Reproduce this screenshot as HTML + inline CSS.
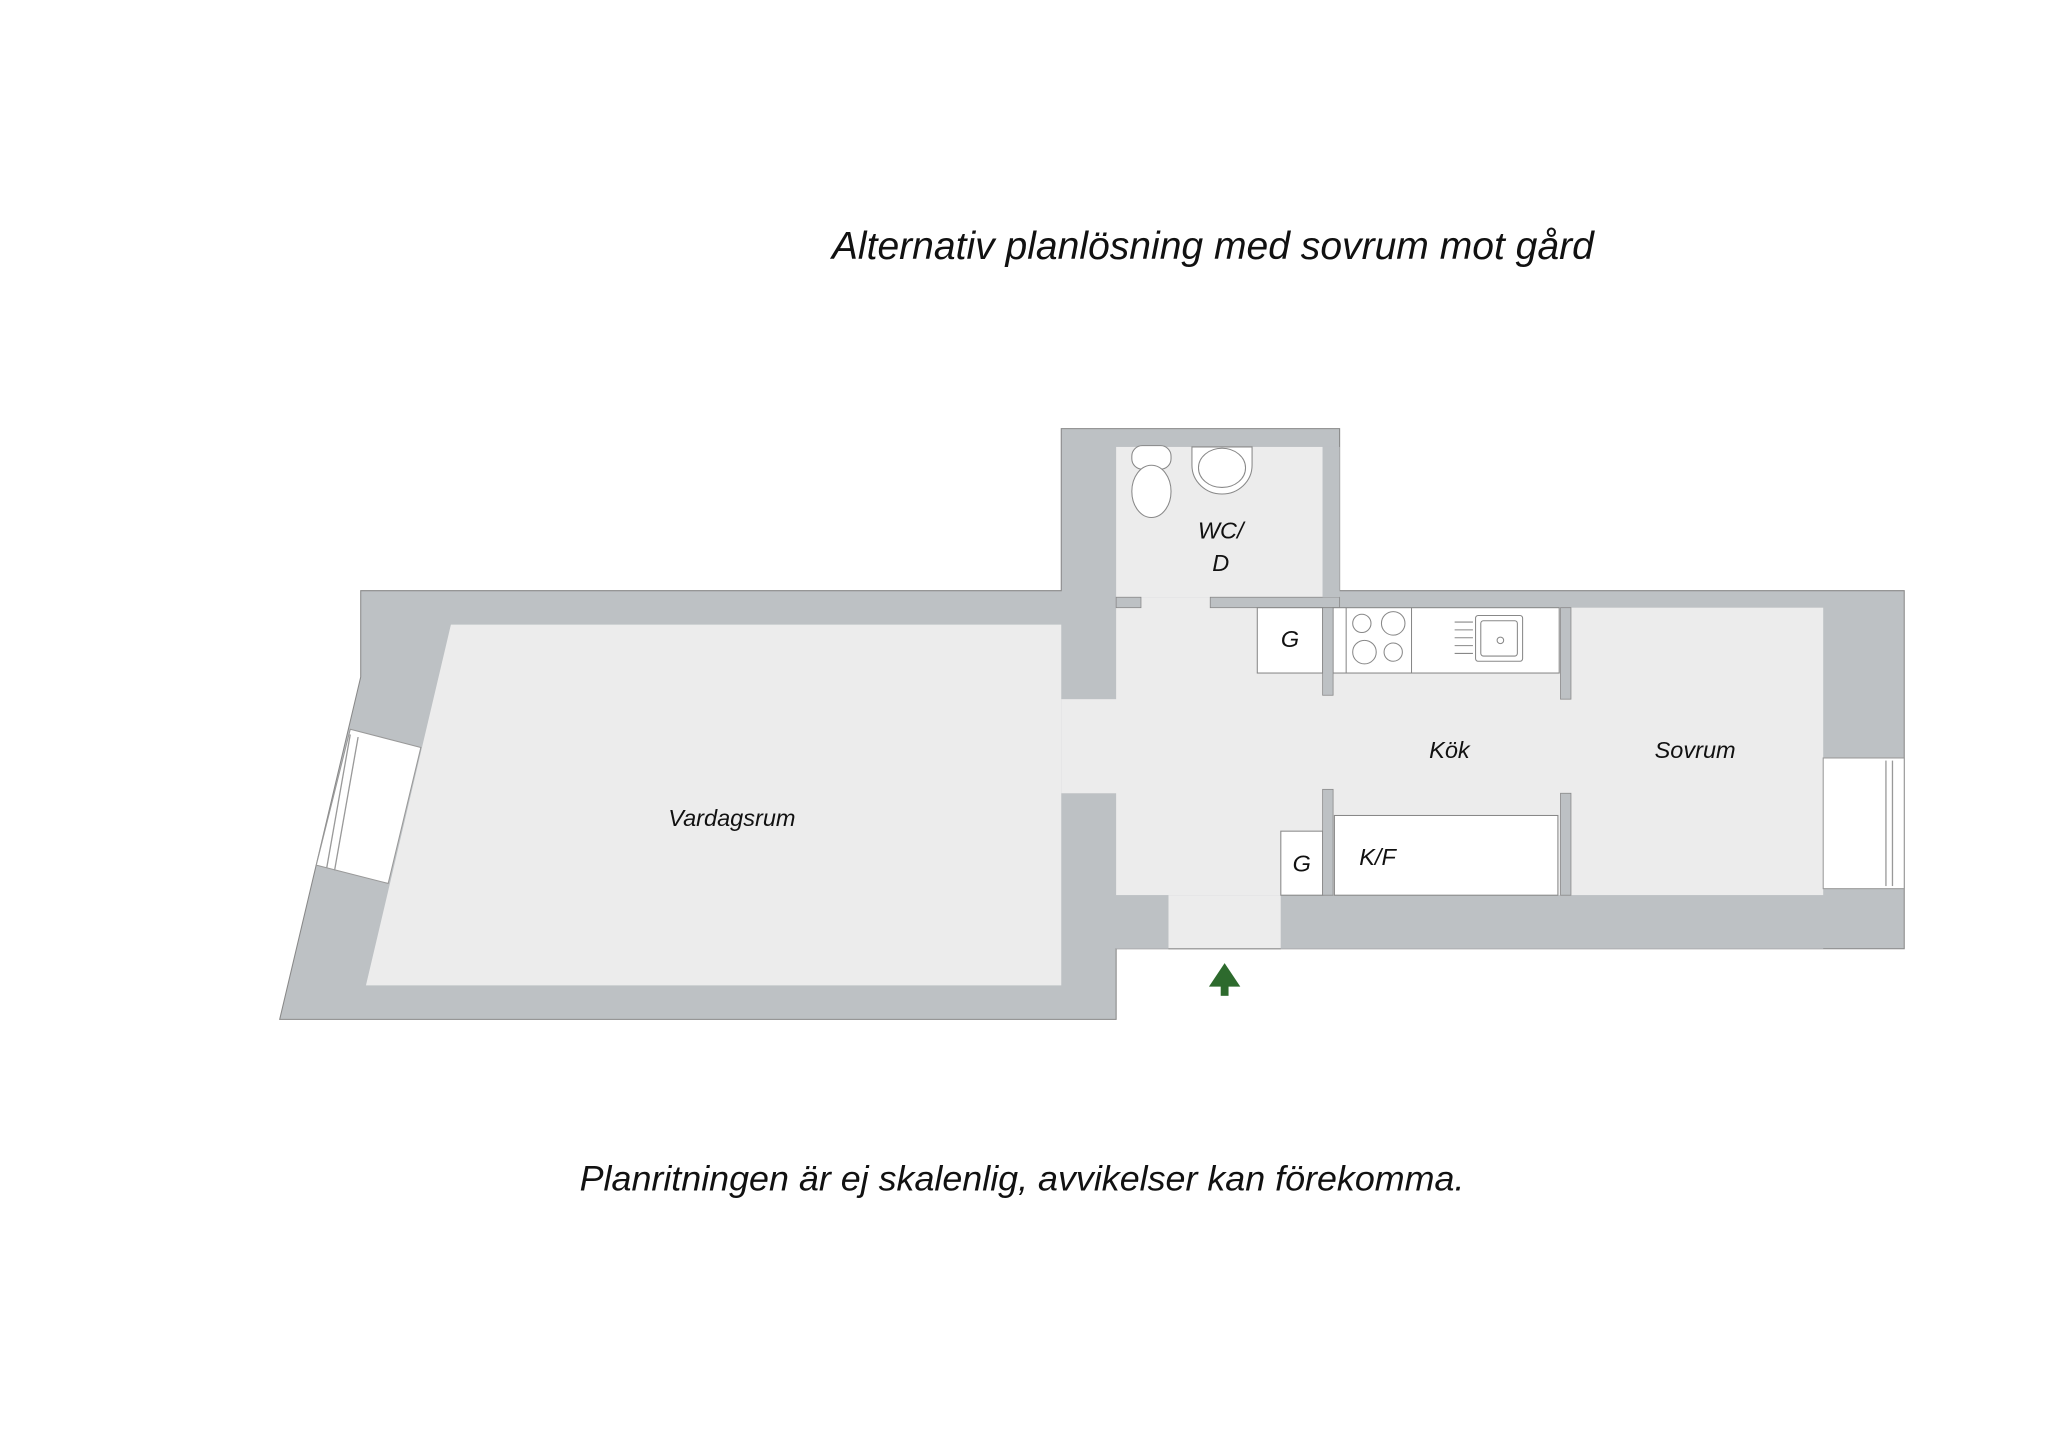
<!DOCTYPE html>
<html><head><meta charset="utf-8"><style>
html,body{margin:0;padding:0;background:#fff;}
svg{display:block;}
text{font-family:"Liberation Sans",sans-serif;font-style:italic;fill:#111;}
</style></head><body>
<svg width="2048" height="1448" viewBox="0 0 1567 1108" preserveAspectRatio="none" xmlns="http://www.w3.org/2000/svg">
<rect width="1567" height="1108" fill="#fff"/>
<text x="928" y="198" font-size="29.5" text-anchor="middle" textLength="583" lengthAdjust="spacingAndGlyphs">Alternativ planlösning med sovrum mot gård</text>
<text x="782" y="911" font-size="27" text-anchor="middle" textLength="677" lengthAdjust="spacingAndGlyphs">Planritningen är ej skalenlig, avvikelser kan förekomma.</text>
<polygon points="276,452 812,452 812,328 1025,328 1025,452 1457,452 1457,726 980,726 980,726 854,726 854,780 214,780 276,518" fill="#bdc1c4" stroke="#888" stroke-width="0.8"/>
<g fill="#ececec">
<polygon points="345,478 812,478 812,754 280,754"/>
<rect x="812" y="535" width="44" height="72"/>
<rect x="854" y="342" width="158" height="115"/>
<rect x="873" y="457" width="53" height="10"/>
<rect x="854" y="465" width="541" height="220"/>
<rect x="894" y="685" width="86" height="41"/>
</g>
<rect x="854" y="457" width="19" height="8" fill="#bdc1c4" stroke="#888" stroke-width="0.6"/>
<rect x="926" y="457" width="99" height="8" fill="#bdc1c4" stroke="#888" stroke-width="0.6"/>
<rect x="1012" y="342" width="13" height="115" fill="#bdc1c4"/>
<rect x="854" y="685" width="40" height="41" fill="#bdc1c4"/>
<rect x="980" y="685" width="415" height="41" fill="#bdc1c4"/>
<line x1="894" y1="726" x2="980" y2="726" stroke="#999" stroke-width="1"/>
<polygon points="268,558 322,572 297,676 242,662" fill="#fff" stroke="#999" stroke-width="0.8"/>
<line x1="268" y1="562" x2="250" y2="664" stroke="#999" stroke-width="1"/>
<line x1="274" y1="564" x2="256" y2="666" stroke="#999" stroke-width="1"/>
<rect x="1395" y="580" width="62" height="100" fill="#fff" stroke="#999" stroke-width="0.8"/>
<line x1="1443" y1="582" x2="1443" y2="678" stroke="#999"/>
<line x1="1448" y1="582" x2="1448" y2="678" stroke="#999"/>
<g fill="#fff" stroke="#888" stroke-width="0.8">
<rect x="962" y="465" width="50" height="50"/>
<rect x="1020" y="465" width="173" height="50"/>
<line x1="1030" y1="465" x2="1030" y2="515"/>
<line x1="1080" y1="465" x2="1080" y2="515"/>
<circle cx="1042" cy="477" r="7"/><circle cx="1066" cy="477" r="9"/>
<circle cx="1044" cy="499" r="9"/><circle cx="1066" cy="499" r="7"/>
<rect x="1129" y="471" width="36" height="35" rx="2"/>
<rect x="1133" y="475" width="28" height="27" rx="2"/>
<circle cx="1148" cy="490" r="2.5"/>
<line x1="1113" y1="476" x2="1127" y2="476"/><line x1="1113" y1="482" x2="1127" y2="482"/>
<line x1="1113" y1="488" x2="1127" y2="488"/><line x1="1113" y1="494" x2="1127" y2="494"/>
<line x1="1113" y1="500" x2="1127" y2="500"/>
<rect x="1021" y="624" width="171" height="61"/>
<rect x="980" y="636" width="32" height="49"/>
<rect x="866" y="341" width="30" height="18" rx="8"/>
<ellipse cx="881" cy="376" rx="15" ry="20"/>
<path d="M912,342 L958,342 L958,356 A23,22 0 0 1 912,356 Z"/>
<ellipse cx="935" cy="358" rx="18" ry="15"/>
</g>
<g fill="#bdc1c4" stroke="#888" stroke-width="0.6">
<rect x="1012" y="465" width="8" height="67"/>
<rect x="1194" y="465" width="8" height="70"/>
<rect x="1012" y="604" width="8" height="81"/>
<rect x="1194" y="607" width="8" height="78"/>
</g>
<polygon points="937,737 949,755 925,755" fill="#2d6a2d"/>
<rect x="934" y="754" width="6" height="8" fill="#2d6a2d"/>
<g font-size="18" text-anchor="middle">
<text x="560" y="632">Vardagsrum</text>
<text x="1109" y="580">Kök</text>
<text x="1297" y="580">Sovrum</text>
<text x="934" y="412">WC/</text>
<text x="934" y="437">D</text>
<text x="987" y="495">G</text>
<text x="996" y="667">G</text>
<text x="1054" y="662">K/F</text>
</g>
</svg>
</body></html>
